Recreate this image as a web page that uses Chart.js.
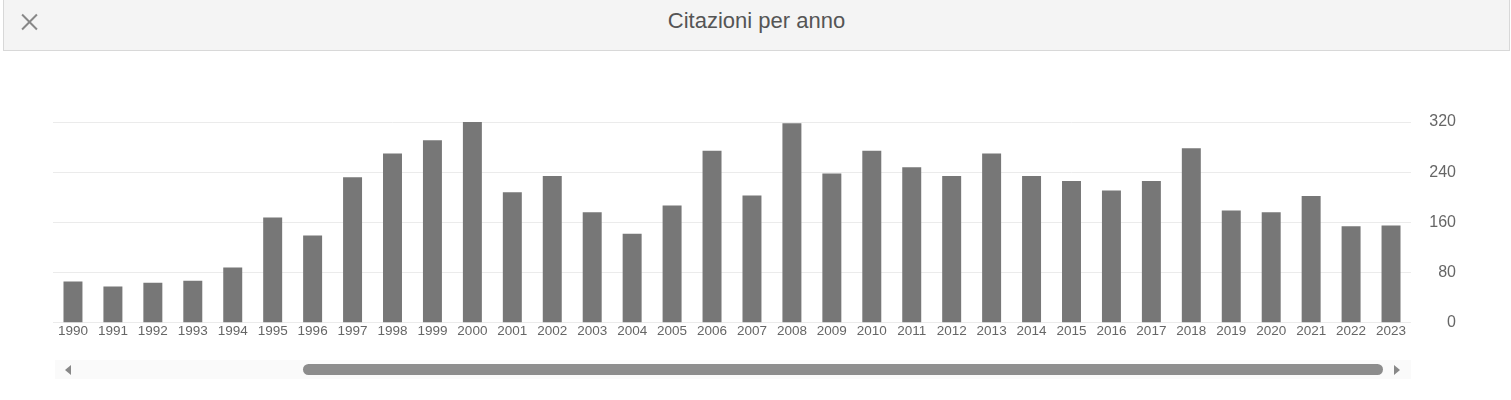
<!DOCTYPE html>
<html>
<head>
<meta charset="utf-8">
<script src="https://cdn.jsdelivr.net/npm/chart.js@4.4.0/dist/chart.umd.min.js"></script>
<style>
  html, body { margin: 0; padding: 0; background: #fff; font-family: "Liberation Sans", Arial, sans-serif; }
  #frame { position: relative; width: 1511px; height: 400px; overflow: hidden; }
  #header {
    position: absolute; left: 3px; top: 0; width: 1505px; height: 50px;
    background: #f4f4f4; border-bottom: 1px solid #d8d8d8;
    border-left: 1px solid #d8d8d8; border-right: 1px solid #d8d8d8;
  }
  #title {
    position: absolute; left: 0; right: 0; top: 8px; text-align: center;
    font-size: 22px; color: #555;
  }
  #close { position: absolute; left: 15px; top: 12px; width: 20px; height: 20px; }
  #close::before, #close::after {
    content: ""; position: absolute; left: 0px; top: 9px; width: 21px; height: 2px; background: #888;
  }
  #close::before { transform: rotate(45deg); }
  #close::after { transform: rotate(-45deg); }
  #wrap { position: absolute; left: 0; top: 52px; width: 1511px; height: 289px; }
  #track { position: absolute; left: 55px; top: 360px; width: 1356px; height: 19px; background: #fafafa; }
  #thumb { position: absolute; left: 248px; top: 4px; width: 1080px; height: 11px; background: #8c8c8c; border-radius: 6px; }
  .arrow { position: absolute; top: 5px; width: 0; height: 0; border-top: 5px solid transparent; border-bottom: 5px solid transparent; }
  #la { left: 10px; border-right: 6px solid #888; }
  #ra { left: 1339px; border-left: 6px solid #888; }
</style>
</head>
<body>
<div id="frame">
  <div id="header">
    <div id="close"></div>
    <div id="title">Citazioni per anno</div>
  </div>
  <div id="wrap"><canvas id="chart"></canvas></div>
  <div id="track">
    <div class="arrow" id="la"></div>
    <div id="thumb"></div>
    <div class="arrow" id="ra"></div>
  </div>
</div>
<script>
const years = ['1990','1991','1992','1993','1994','1995','1996','1997','1998','1999',
  '2000','2001','2002','2003','2004','2005','2006','2007','2008','2009',
  '2010','2011','2012','2013','2014','2015','2016','2017','2018','2019',
  '2020','2021','2022','2023'];
const citations = [66, 58, 64, 67, 88, 168, 139, 232, 270, 291,
  320, 208, 234, 176, 142, 187, 274, 203, 318, 238,
  274, 248, 234, 270, 234, 226, 211, 226, 278, 179,
  176, 202, 154, 155];
const yTicks = [0, 80, 160, 240, 320];

const ctx = document.getElementById('chart').getContext('2d');
new Chart(ctx, {
  type: 'bar',
  data: {
    labels: years,
    datasets: [{
      data: citations,
      backgroundColor: '#777777',
      categoryPercentage: 1,
      barPercentage: 0.475
    }]
  },
  options: {
    responsive: true,
    maintainAspectRatio: false,
    animation: false,
    layout: { padding: { left: 53, right: 55, top: 70, bottom: 2 } },
    plugins: { legend: { display: false }, tooltip: { enabled: false } },
    scales: {
      x: {
        grid: { display: false, drawTicks: false },
        border: { display: false },
        ticks: {
          color: '#666',
          font: { family: 'Liberation Sans', size: 13.5 },
          maxRotation: 0,
          autoSkip: false,
          padding: 0
        }
      },
      y: {
        position: 'right',
        min: 0,
        max: 320,
        afterBuildTicks: (axis) => { axis.ticks = yTicks.map(v => ({ value: v })); },
        afterFit: (axis) => {
          axis.width = 45;
          axis.paddingTop = 0;
          axis.paddingBottom = 0;
        },
        grid: { color: '#ebebeb', drawTicks: false },
        border: { display: false },
        ticks: {
          color: '#666',
          crossAlign: 'far',
          font: { family: 'Liberation Sans', size: 16 }
        }
      }
    }
  }
});
</script>
</body>
</html>
